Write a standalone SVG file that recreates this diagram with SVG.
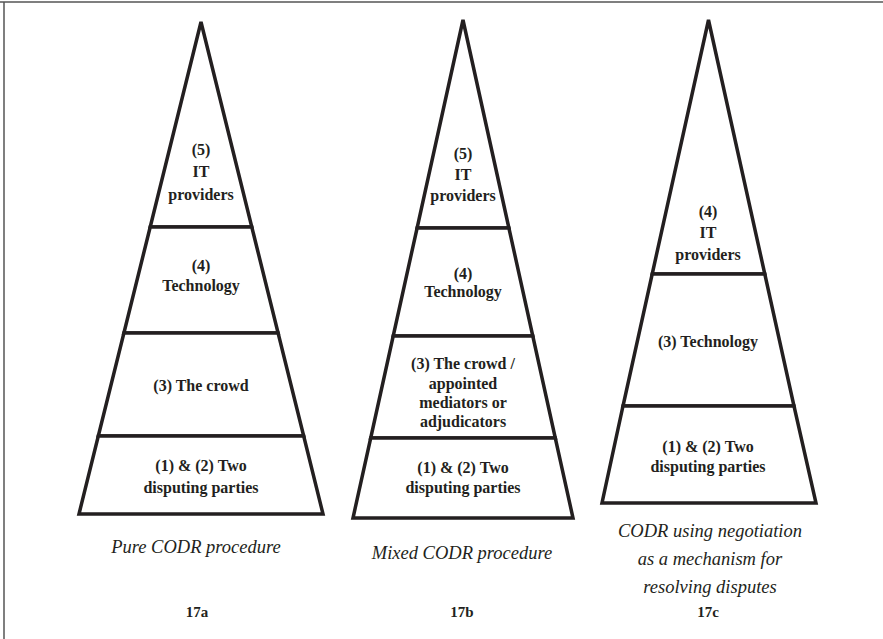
<svg xmlns="http://www.w3.org/2000/svg" width="883" height="639" viewBox="0 0 883 639">
<style>
.tier{fill:#fff;stroke:#231f20;stroke-width:3.5;stroke-linejoin:miter}
.lbl{font-family:"Liberation Serif","Times New Roman",serif;font-weight:bold;font-size:16px;fill:#231f20;text-anchor:middle}
.cap{font-family:"Liberation Serif","Times New Roman",serif;font-style:italic;font-size:18.5px;fill:#231f20;text-anchor:middle}
.num{font-family:"Liberation Serif","Times New Roman",serif;font-weight:bold;font-size:15px;fill:#231f20;text-anchor:middle}
</style>
<rect x="0" y="0" width="883" height="639" fill="#fff"/>
<g id="frame" fill="none" stroke="#555" stroke-width="1.5">
<line x1="0" y1="2" x2="883" y2="2"/>
<line x1="4" y1="2" x2="4" y2="639"/>
</g>
<g id="connectors"></g>
<g id="pyramid-a">
<g id="a5"><polygon class="tier" points="201,22 150.2,227 251.8,227"/>
<text class="lbl" x="201" y="155">(5)</text><text class="lbl" x="201" y="177">IT</text><text class="lbl" x="201" y="200">providers</text></g>
<g id="a4"><polygon class="tier" points="150.2,227 251.8,227 278.1,333 123.9,333"/>
<text class="lbl" x="201" y="271">(4)</text><text class="lbl" x="201" y="291">Technology</text></g>
<g id="a3"><polygon class="tier" points="123.9,333 278.1,333 303.7,436 98.3,436"/>
<text class="lbl" x="201" y="391">(3) The crowd</text></g>
<g id="a12"><polygon class="tier" points="98.3,436 303.7,436 323,514 79,514"/>
<text class="lbl" x="201" y="471">(1) &amp; (2) Two</text><text class="lbl" x="201" y="493">disputing parties</text></g>
</g>
<g id="pyramid-b">
<g id="b5"><polygon class="tier" points="463,20 417.1,228 508.9,228"/>
<text class="lbl" x="463" y="159">(5)</text><text class="lbl" x="463" y="180">IT</text><text class="lbl" x="463" y="201">providers</text></g>
<g id="b4"><polygon class="tier" points="417.1,228 508.9,228 532.8,336 393.2,336"/>
<text class="lbl" x="463" y="279">(4)</text><text class="lbl" x="463" y="297">Technology</text></g>
<g id="b3"><polygon class="tier" points="393.2,336 532.8,336 555.3,438 370.7,438"/>
<text class="lbl" x="463" y="369">(3) The crowd /</text><text class="lbl" x="463" y="389">appointed</text><text class="lbl" x="463" y="408">mediators or</text><text class="lbl" x="463" y="427">adjudicators</text></g>
<g id="b12"><polygon class="tier" points="370.7,438 555.3,438 573,518 353,518"/>
<text class="lbl" x="463" y="473">(1) &amp; (2) Two</text><text class="lbl" x="463" y="493">disputing parties</text></g>
</g>
<g id="pyramid-c">
<g id="c4"><polygon class="tier" points="708.5,20 652.2,274 764.8,274"/>
<text class="lbl" x="708" y="217">(4)</text><text class="lbl" x="708" y="238">IT</text><text class="lbl" x="708" y="260">providers</text></g>
<g id="c3"><polygon class="tier" points="652.2,274 764.8,274 794,406 623,406"/>
<text class="lbl" x="708" y="347">(3) Technology</text></g>
<g id="c12"><polygon class="tier" points="623,406 794,406 816,503 602,503"/>
<text class="lbl" x="708" y="452">(1) &amp; (2) Two</text><text class="lbl" x="708" y="472">disputing parties</text></g>
</g>
<g id="captions">
<text class="cap" x="196" y="553">Pure CODR procedure</text>
<text class="cap" x="462" y="559">Mixed CODR procedure</text>
<text class="cap" x="710" y="537">CODR using negotiation</text>
<text class="cap" x="710" y="565">as a mechanism for</text>
<text class="cap" x="710" y="593">resolving disputes</text>
<text class="num" x="197" y="617">17a</text>
<text class="num" x="462" y="617">17b</text>
<text class="num" x="708" y="617">17c</text>
</g>
</svg>
